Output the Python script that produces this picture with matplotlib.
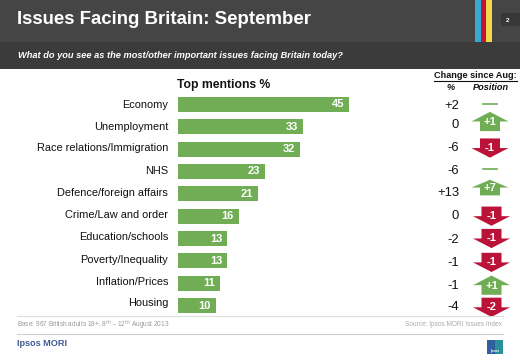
import matplotlib
matplotlib.use("Agg")
import matplotlib.pyplot as plt
from matplotlib.patches import Polygon, Rectangle

plt.rcParams['font.family'] = ['Liberation Sans', 'DejaVu Sans']

issues = ["Economy", "Unemployment", "Race relations/Immigration", "NHS",
          "Defence/foreign affairs", "Crime/Law and order", "Education/schools",
          "Poverty/Inequality", "Inflation/Prices", "Housing"]
mentions = [45, 33, 32, 23, 21, 16, 13, 13, 11, 10]
change_pct = ["+2", "0", "-6", "-6", "+13", "0", "-2", "-1", "-1", "-4"]
change_pos = [0, 1, -1, 0, 7, -1, -1, -1, 1, -2]

# the labels and right hand columns do not quite follow the bar rows (row units)
label_nudge = [0.02, 0.01, -0.03, -0.03, -0.05, -0.07, -0.05, -0.03, -0.05, -0.11]
pct_nudge = [0.05, -0.06, -0.04, -0.04, -0.02, 0.01, 0.08, 0.11, 0.14, 0.05]
arrow_nudge = [0, -0.24, -0.05, -0.1, -0.28, 0, 0, 0.07, 0.09, 0.08]

GREEN = "#70ad55"
RED = "#bb1237"
W, H = 520, 359

fig = plt.figure(figsize=(W / 100, H / 100), dpi=100, facecolor="white")

# whole figure in pixels, y going down, for the header and footer
bg = fig.add_axes([0, 0, 1, 1])
bg.set_xlim(0, W)
bg.set_ylim(H, 0)
bg.axis("off")

bg.add_patch(Rectangle((0, 0), W, 42, color="#454545", lw=0))
bg.add_patch(Rectangle((0, 42), W, 27, color="#3b3b3b", lw=0))
bg.add_patch(Rectangle((475, 0), 5.5, 42, color="#38a9cf", lw=0))
bg.add_patch(Rectangle((480.5, 0), 5.5, 42, color="#c0143c", lw=0))
bg.add_patch(Rectangle((486, 0), 6, 42, color="#f0d848", lw=0))
bg.add_patch(Rectangle((501, 13), 19, 13, color="#383838", lw=0))
bg.text(507.5, 20, "2", color="white", fontsize=4.5, weight="bold", ha="center", va="center")

bg.text(17, 20, "Issues Facing Britain: September", color="white", fontsize=13.4,
        weight="bold", va="center")
bg.text(17.5, 56, "What do you see as the most/other important issues facing Britain today?",
        color="white", fontsize=6.7, style="italic", weight="bold", va="center")

bg.text(177, 85, "Top mentions %", color="#111111", fontsize=8.7, weight="bold", va="center")
bg.text(475, 75, "Change since Aug:", color="#111111", fontsize=6.6, weight="bold",
        ha="center", va="center")
bg.plot([434, 517], [80.5, 80.5], color="#111111", lw=0.8)
bg.text(451, 88, "%", color="#111111", fontsize=6.6, weight="bold", style="italic", ha="center", va="center")
bg.text(491, 88, "Position", color="#111111", fontsize=6.6, weight="bold", style="italic",
        ha="center", va="center")

bg.plot([17, 503], [316, 316], color="#dddddd", lw=0.8)
bg.plot([17, 503], [334, 334], color="#cfcfcf", lw=0.8)
bg.text(17, 324.5, "Base: 967 British adults 18+, 8$^{th}$ \u2013 12$^{th}$ August 2013",
        color="#999999", fontsize=4.7, va="center")
bg.text(502, 325, "Source: Ipsos MORI Issues Index", color="#aaaaaa", fontsize=4.7,
        ha="right", va="center")
bg.text(17, 344, "Ipsos MORI", color="#3f5a94", fontsize=6.6, weight="bold", va="center")
bg.add_patch(Rectangle((487, 340), 16, 14, color="#2f5f9e", lw=0))
bg.add_patch(Rectangle((495, 340), 8, 14, color="#2a8f9a", lw=0))
bg.text(495, 351, "Ipsos", color="white", fontsize=2.5, weight="bold", ha="center", va="center")

# bars: x in percent, y in row number
left, right = 178, 178 + 3.8 * 50
top, bottom = 94, 316
ax = fig.add_axes([left / W, 1 - bottom / H, (right - left) / W, (bottom - top) / H])
ax.set_xlim(0, 50)
ax.set_ylim(9.47, -0.47)
ax.axis("off")
ax.patch.set_alpha(0)
ax.barh(range(len(issues)), mentions, height=0.67, color=GREEN, edgecolor="none")
for i, name in enumerate(issues):
    ax.text(-2.6, i + label_nudge[i], name, ha="right", va="center", fontsize=7.9, color="#111111",
            clip_on=False)
    ax.text(mentions[i] - 1.3, i, str(mentions[i]), ha="right", va="center", fontsize=8,
            color="white", weight="bold")

# right hand columns share the bar rows, x in pixels
side = fig.add_axes([430 / W, 1 - bottom / H, 90 / W, (bottom - top) / H])
side.set_xlim(430, 520)
side.set_ylim(ax.get_ylim())
side.axis("off")
side.patch.set_alpha(0)
for i, (pct, pos) in enumerate(zip(change_pct, change_pos)):
    side.text(459, i + pct_nudge[i], pct, ha="right", va="center", fontsize=9.4, color="#111111")
    cx = 490 if i < 5 else 491.5
    y0 = i + arrow_nudge[i]
    if pos == 0:
        side.plot([cx - 7, cx + 7], [y0, y0], color=GREEN, lw=1.2)
        continue
    d = 1 if pos > 0 else -1
    h = 0.35 if pos == 7 else 0.43
    pts = [(cx, y0 - d * h), (cx + 18.5, y0), (cx + 10, y0),
           (cx + 10, y0 + d * h), (cx - 10, y0 + d * h), (cx - 10, y0),
           (cx - 18.5, y0)]
    side.add_patch(Polygon(pts, closed=True, color=GREEN if pos > 0 else RED, lw=0))
    side.text(cx, y0 + d * 0.02, f"{pos:+d}", ha="center", va="center", fontsize=8,
              color="white", weight="bold")

fig.savefig("out.png", dpi=100)
